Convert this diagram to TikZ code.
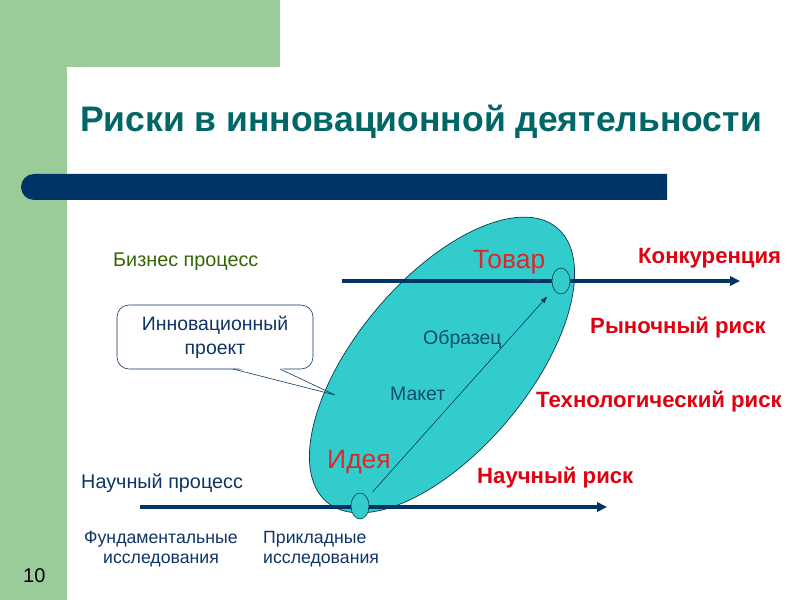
\documentclass[tikz,border=0pt]{standalone}
\usepackage{fontspec}
\setmainfont{Liberation Sans}
\usetikzlibrary{shapes.geometric,arrows.meta}
\definecolor{slidegreen}{HTML}{99CC99}
\definecolor{barnavy}{HTML}{003366}
\definecolor{titleteal}{HTML}{006666}
\definecolor{ovalteal}{HTML}{33CCCC}
\definecolor{ovaledge}{HTML}{0A3A4A}
\definecolor{riskred}{HTML}{E0000F}
\definecolor{stagered}{HTML}{DC2828}
\definecolor{procgreen}{HTML}{336600}
\definecolor{textnavy}{HTML}{0F3466}
\definecolor{stepteal}{HTML}{0E4E6C}

\begin{document}
\begin{tikzpicture}[x=0.3mm, y=-0.3mm,
		risklabel/.style={anchor=base west, inner sep=0, text=riskred, font=\fontsize{18.9}{21}\selectfont\bfseries},
		stagelabel/.style={anchor=base west, inner sep=0, text=stagered, font=\fontsize{22.6}{26}\selectfont},
		steplabel/.style={anchor=base west, inner sep=0, text=stepteal, font=\fontsize{16.6}{20}\selectfont},
		proclabel/.style={anchor=base west, inner sep=0, font=\fontsize{16.9}{20}\selectfont},
		studylabel/.style={anchor=base, inner sep=0, text=textnavy, font=\fontsize{15.1}{17}\selectfont},
		axisline/.style={line width=1.2mm, color=barnavy, -{Triangle[length=3mm,width=2.8mm]}},
		pointnode/.style={ellipse, draw=ovaledge, fill=ovalteal, line width=0.5pt, inner sep=0, minimum width=5.4mm, minimum height=7.8mm}]
		%%%%% START %%%%%
		
		\useasboundingbox (0, 0) rectangle (800, 600);
		\fill[white] (0, 0) rectangle (800, 600);
		
		% slide frame
		\fill[slidegreen] (0, 0) rectangle (280, 67);
		\fill[slidegreen] (0, 0) rectangle (67, 600);
		\fill[white] (67, 600) -- (67, 87) arc[start angle=180, end angle=270, radius=20] -- (800, 67) -- (800, 600) -- cycle;
		\fill[barnavy] (667, 174) -- (34, 174) arc[start angle=270, end angle=90, radius=13] -- (667, 200) -- cycle;
		
		\node[anchor=base west, inner sep=0, text=titleteal, font=\fontsize{30.3}{34}\selectfont\bfseries] (title) at (80, 132) {Риски в инновационной деятельности};
		
		% callout
		\node[draw=textnavy, fill=white, line width=0.5pt, rounded corners=3.6mm, minimum width=58.8mm, minimum height=19.2mm, inner sep=0, align=center, text=textnavy, font=\fontsize{16.6}{20.5}\selectfont] (innov) at (215, 337) {Инновационный\\проект};
		\coordinate (cpa) at (233, 369);
		\coordinate (cpb) at (280, 369);
		\coordinate (cptip) at (335, 395);
		\fill[white] (234, 367) -- (279, 367) -- (cptip) -- cycle;
		
		% oval
		\node[ellipse, draw=ovaledge, fill=ovalteal, line width=0.6pt, inner sep=0, minimum width=107.4mm, minimum height=51.6mm, rotate=50] (oval) at (442, 365) {};
		
		% axes
		\coordinate (bus0) at (342, 281);
		\coordinate (bus1) at (740, 281);
		\coordinate (sci0) at (140, 507);
		\coordinate (sci1) at (607, 507);
		\draw[axisline] (bus0) -- (bus1);
		\draw[axisline] (sci0) -- (sci1);
		
		\node[pointnode] (tovarpt) at (561, 281) {};
		\node[pointnode] (ideapt) at (360, 506) {};
		\draw[line width=0.5pt, color=barnavy, shorten <=2.4mm, shorten >=3mm, -{Triangle[length=2mm,width=1.4mm]}] (ideapt) -- (tovarpt);
		
		\draw[line width=0.5pt, color=textnavy] (cpa) -- (cptip) -- (cpb);
		
		% labels
		\node[stagelabel] (tovar) at (473, 268) {Товар};
		\node[stagelabel] (idea) at (327, 468) {Идея};
		\node[steplabel] (obrazec) at (423, 344) {Образец};
		\node[steplabel] (maket) at (390, 400) {Макет};
		
		\node[risklabel] (konk) at (638, 263) {Конкуренция};
		\node[risklabel] (rynok) at (590, 333) {Рыночный риск};
		\node[risklabel] (tech) at (536, 407) {Технологический риск};
		\node[risklabel] (nauch) at (477, 483) {Научный риск};
		
		\node[proclabel, text=procgreen] (bizproc) at (113, 267) {Бизнес процесс};
		\node[proclabel, text=textnavy] (sciproc) at (81, 488) {Научный процесс};
		
		\node[studylabel] (fund1) at (161, 543) {Фундаментальные};
		\node[studylabel] (fund2) at (161, 563) {исследования};
		\node[studylabel, anchor=base west] (appl1) at (263, 543) {Прикладные};
		\node[studylabel, anchor=base west] (appl2) at (263, 563) {исследования};
		
		\node[anchor=base west, inner sep=0, font=\fontsize{17}{20}\selectfont] (pagenum) at (23, 582) {10};
		
		%%%%% END %%%%%
	\end{tikzpicture}
\end{document}
